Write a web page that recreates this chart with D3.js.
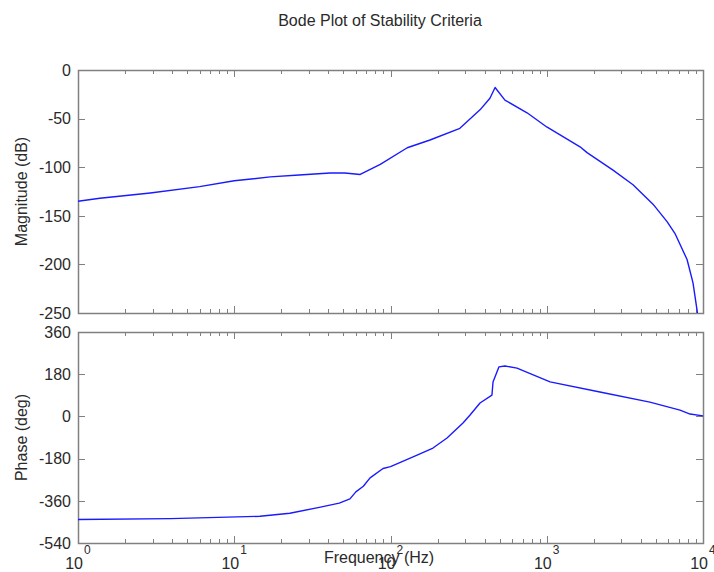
<!DOCTYPE html>
<html>
<head>
<meta charset="utf-8">
<script src="https://cdn.jsdelivr.net/npm/d3@7/dist/d3.min.js"></script>
<style>
  body { margin: 0; background: #fff; }
  svg { display: block; }
</style>
</head>
<body>
<script>
// Magnitude response (frequency in Hz, gain in dB)
const magFreq = [1, 1.38, 2.9, 6.0, 10, 17, 26, 41, 51, 64, 86, 128, 179, 278, 374, 433, 467,
                 540, 748, 1000, 1633, 1811, 2655, 3565, 4786, 5888, 6607, 7907, 8630, 9160, 9400];
const magDb   = [-135, -132, -126.5, -120, -114, -110, -108, -106, -106, -107.5, -97, -80, -72, -60, -41, -29, -18,
                 -31, -44, -58.6, -79, -85, -103, -118, -138, -156, -168, -195, -219, -247, -262];

// Phase response (frequency in Hz, phase in degrees)
const phaseFreq = [1, 3.9, 14.6, 22.7, 35, 47, 55, 60, 67, 74, 89.6, 100, 148, 187, 230, 291, 323, 374,
                   446, 453, 494, 540, 645, 1050, 2188, 4571, 7127, 8260, 10000];
const phaseDeg  = [-440, -436, -426, -413, -388, -370, -352, -322, -298, -262, -222, -214, -165, -135, -92, -28, 6, 57,
                   91, 147, 211, 215, 206, 147, 104, 61, 27, 10, 2];

// Axis tick values and labels
const magTicks = [0, -50, -100, -150, -200, -250];
const phaseTicks = [360, 180, 0, -180, -360, -540];
const decadeExponents = [0, 1, 2, 3, 4];

const titleText = "Bode Plot of Stability Criteria";
const magLabel = "Magnitude (dB)";
const phaseLabel = "Phase (deg)";
const freqLabel = "Frequency (Hz)";

const W = 714, H = 572;
const left = 78, right = 703;
const magBox = { top: 70, bottom: 313 };
const phaseBox = { top: 332, bottom: 543 };

const font = "'Liberation Sans', Arial, Helvetica, sans-serif";
const frameColor = "#808080";
const textColor = "#2a2a2a";
const lineColor = "#1a1aff";

const svg = d3.select("body").append("svg")
  .attr("width", W).attr("height", H)
  .style("font-family", font);

const x = d3.scaleLog().domain([1, 1e4]).range([left, right]);
const yMag = d3.scaleLinear().domain([-250, 0]).range([magBox.bottom, magBox.top]);
const yPhase = d3.scaleLinear().domain([-540, 360]).range([phaseBox.bottom, phaseBox.top]);

// decade and sub-decade tick positions on the frequency axis
const majorF = decadeExponents.map(e => Math.pow(10, e));
const minorF = [];
for (let e = 0; e < 4; e++) for (let m = 2; m <= 9; m++) minorF.push(m * Math.pow(10, e));

function drawPanel(box, y, ticks, freqs, vals, id, label) {
  const g = svg.append("g");

  g.append("clipPath").attr("id", id)
    .append("rect")
    .attr("x", left).attr("y", box.top)
    .attr("width", right - left).attr("height", box.bottom - box.top);

  // frequency ticks on top and bottom edges
  const tg = g.append("g").attr("stroke", frameColor).attr("stroke-width", 1);
  minorF.concat(majorF).forEach(f => {
    const len = majorF.includes(f) ? 7 : 4;
    const px = Math.round(x(f)) + 0.5;
    tg.append("line").attr("x1", px).attr("x2", px)
      .attr("y1", box.bottom).attr("y2", box.bottom - len);
    tg.append("line").attr("x1", px).attr("x2", px)
      .attr("y1", box.top).attr("y2", box.top + len);
  });

  // value ticks on left and right edges, labels on the left
  ticks.forEach(t => {
    const py = Math.round(y(t)) + 0.5;
    tg.append("line").attr("x1", left).attr("x2", left + 7).attr("y1", py).attr("y2", py);
    tg.append("line").attr("x1", right).attr("x2", right - 7).attr("y1", py).attr("y2", py);
    g.append("text")
      .attr("x", 71).attr("y", y(t))
      .attr("dy", "0.36em")
      .attr("text-anchor", "end")
      .attr("font-size", 16)
      .attr("fill", textColor)
      .text(t);
  });

  // frame
  g.append("rect")
    .attr("x", left + 0.5).attr("y", box.top + 0.5)
    .attr("width", right - left).attr("height", box.bottom - box.top)
    .attr("fill", "none").attr("stroke", frameColor).attr("stroke-width", 1.5);

  // response curve
  const line = d3.line()
    .x((d, i) => x(freqs[i]))
    .y(d => y(d));
  g.append("path")
    .datum(vals)
    .attr("clip-path", `url(#${id})`)
    .attr("d", line)
    .attr("fill", "none")
    .attr("stroke", lineColor)
    .attr("stroke-width", 1.4)
    .attr("stroke-linejoin", "round");

  // rotated axis label
  g.append("text")
    .attr("transform", `translate(27,${(box.top + box.bottom) / 2}) rotate(-90)`)
    .attr("text-anchor", "middle")
    .attr("font-size", 16)
    .attr("fill", textColor)
    .text(label);
}

drawPanel(magBox, yMag, magTicks, magFreq, magDb, "clipMag", magLabel);
drawPanel(phaseBox, yPhase, phaseTicks, phaseFreq, phaseDeg, "clipPhase", phaseLabel);

// decade labels 10^n under the lower panel
decadeExponents.forEach(e => {
  const px = x(Math.pow(10, e));
  const t = svg.append("text")
    .attr("x", px + 5).attr("y", 569)
    .attr("text-anchor", "end")
    .attr("font-size", 16)
    .attr("fill", textColor);
  t.text("10");
  svg.append("text")
    .attr("x", px + 6).attr("y", 554)
    .attr("font-size", 12)
    .attr("fill", textColor)
    .text(e);
});

// x-axis label
svg.append("text")
  .attr("x", 379).attr("y", 563)
  .attr("text-anchor", "middle")
  .attr("font-size", 16)
  .attr("fill", textColor)
  .text(freqLabel);

// title
svg.append("text")
  .attr("x", 380).attr("y", 26)
  .attr("text-anchor", "middle")
  .attr("font-size", 16)
  .attr("fill", textColor)
  .text(titleText);
</script>
</body>
</html>
